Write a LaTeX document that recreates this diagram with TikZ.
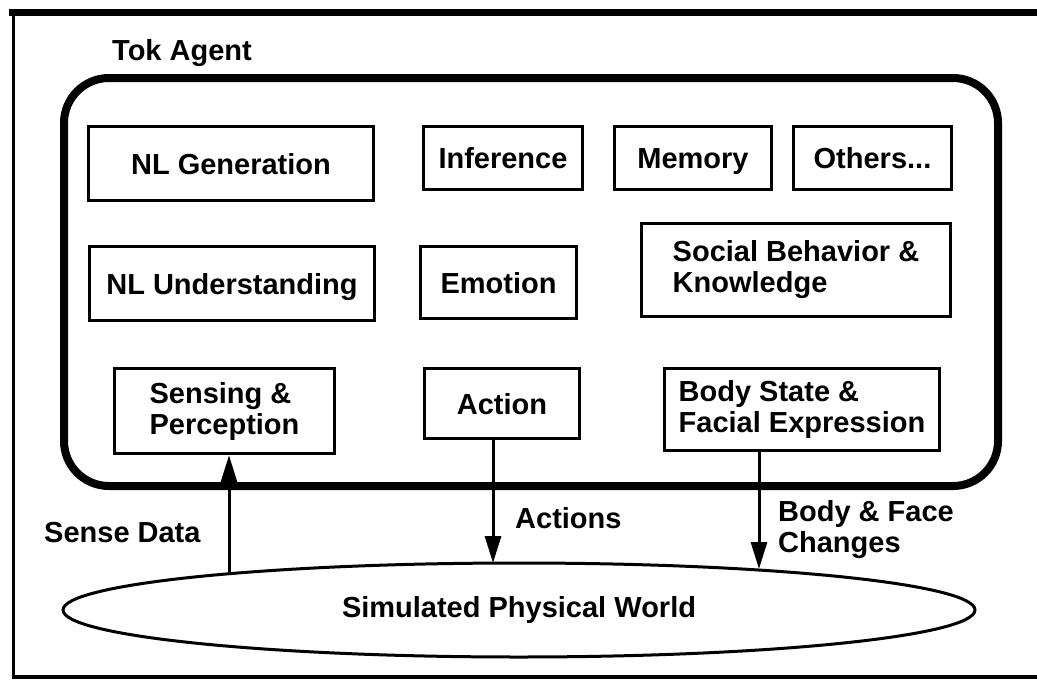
\documentclass[tikz,border=0pt]{standalone}
\usepackage{fontspec}
\setmainfont{Liberation Sans}
\usetikzlibrary{arrows.meta,positioning,shapes.geometric}

\begin{document}
\begin{tikzpicture}
[
x=1pt, y=-1pt,
every node/.style={font=\fontsize{29}{31}\selectfont\bfseries},
module/.style={rectangle, draw=black, line width=3.5pt, inner sep=0pt, align=left},
oneline/.style={module, text height=21pt, text depth=0pt},
agent/.style={draw=black, line width=8pt, rounded corners=45pt},
ground/.style={ellipse, draw=black, line width=3pt, inner sep=0pt, minimum width=912pt, minimum height=94pt},
flow/.style={line width=3pt, -{Triangle[length=27pt,width=16pt]}},
tag/.style={anchor=base west, inner sep=0pt}
]
\useasboundingbox (0,0) rectangle (1037,681);

%Frame
\draw[line width=7pt] (9,12.5) -- (1037,12.5);
\draw[line width=3.3pt] (13.4,9) -- (13.4,677);
\draw[line width=4pt] (11.7,677) -- (1037,677);
\draw[agent] (64,78) rectangle (998,486);

%Nodes
\node[tag]    (tok)       at (112,60)          {Tok Agent};

\node[oneline, minimum width=285pt, minimum height=74pt] (nlgen)   at (231,163.5)  {NL Generation};
\node[oneline, minimum width=159pt, minimum height=63pt] (infer)   at (503,158)    {Inference};
\node[oneline, minimum width=157pt, minimum height=63pt] (memory)  at (693,158)    {Memory};
\node[oneline, minimum width=158pt, minimum height=63pt] (others)  at (872.5,158)  {Others...};

\node[oneline, minimum width=285pt, minimum height=74pt] (nlund)   at (232,283.5)  {NL Understanding};
\node[oneline, minimum width=156pt, minimum height=72pt] (emotion) at (498.5,282.5) {Emotion};
\node[module,  minimum width=309pt, minimum height=93pt] (social)  at (796,270)    {Social Behavior \&\\Knowledge};

\node[module,  minimum width=220pt, minimum height=85pt] (sense)   at (224.5,411)  {Sensing \&\\Perception};
\node[oneline, minimum width=155pt, minimum height=70pt] (act)     at (502,403.5)  {Action};
\node[module,  minimum width=275pt, minimum height=82pt] (body)    at (802,409.5)  {Body State \&\\Facial Expression};

\node[ground] (world) at (519,610) {Simulated Physical World};

%Lines
\coordinate (sdfoot) at (229,573);
\coordinate (acfoot) at (493,563);
\coordinate (bcfoot) at (759,569);
\draw[flow] (sdfoot) -- (sdfoot |- sense.south);
\draw[flow] (act.south -| acfoot) -- (acfoot);
\draw[flow] (body.south -| bcfoot) -- (bcfoot);

\node[tag]              (sdlbl) at (44,542)  {Sense Data};
\node[tag]              (aclbl) at (515,528) {Actions};
\node[tag, align=left]  (bflbl) at (778,552) {Body \& Face\\Changes};

\end{tikzpicture}
\end{document}
